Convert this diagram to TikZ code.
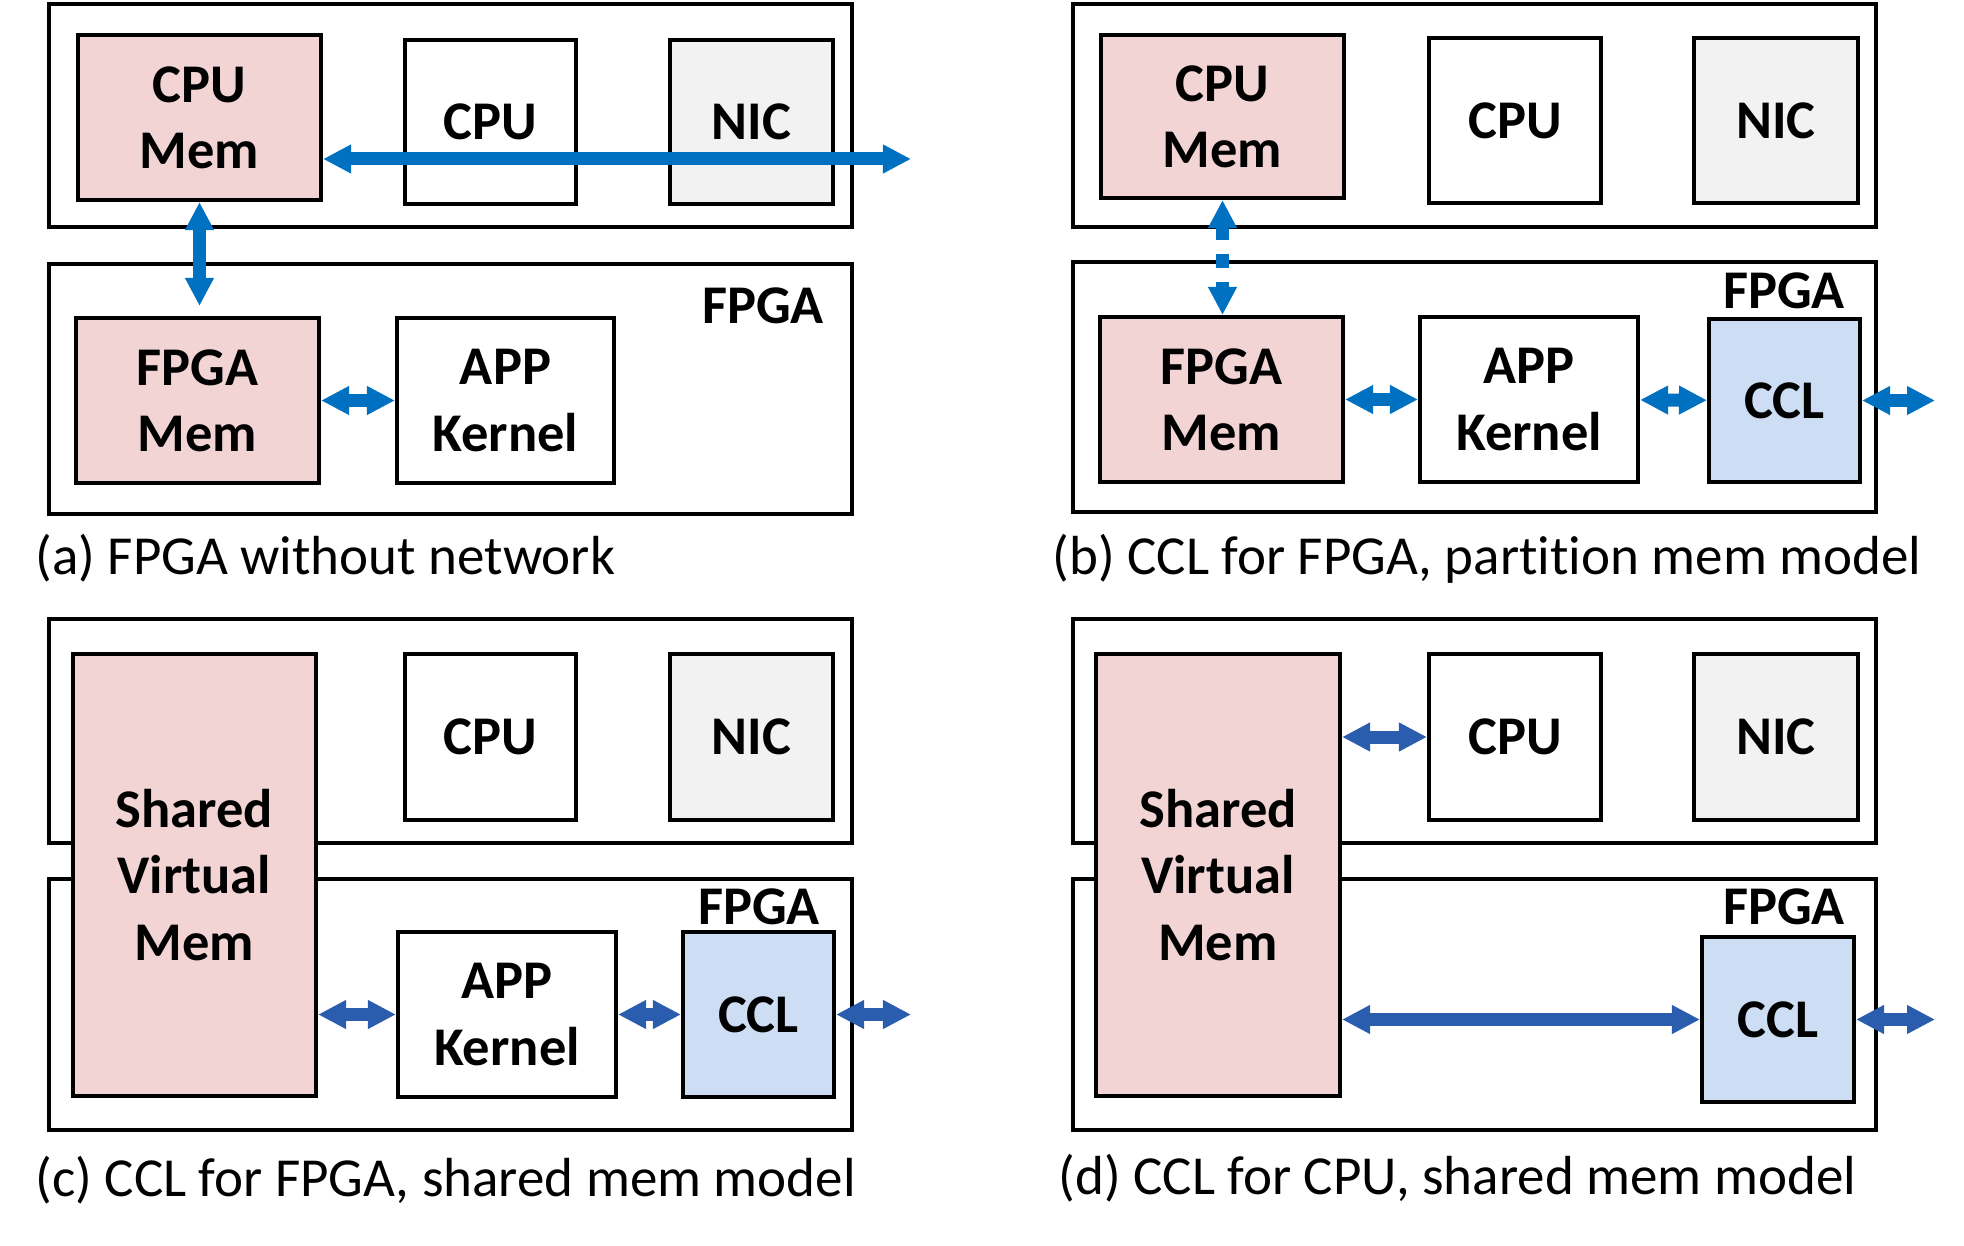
\documentclass[tikz,border=0pt]{standalone}
\usepackage{fontspec}
\setmainfont{Carlito}[RawFeature=-liga]
\usetikzlibrary{arrows.meta}
\definecolor{MemPink}{HTML}{F2D4D4}
\definecolor{NicGray}{HTML}{F2F2F2}
\definecolor{CclBlue}{HTML}{CDDDF3}
\definecolor{LinkBlue}{HTML}{0070C0}
\definecolor{LinkNavy}{HTML}{2A5DAD}

\begin{document}
\begin{tikzpicture}[x=0.01cm, y=-0.01cm,
  frame/.style={draw, line width=0.04cm},
  unit/.style={draw, line width=0.04cm, fill=white, align=center, inner sep=0pt, font=\fontsize{15.5pt}{18.8pt}\selectfont\bfseries},
  mem/.style={unit, fill=MemPink},
  nic/.style={unit, fill=NicGray},
  ccl/.style={unit, fill=CclBlue},
  box/.style args={#1x#2}{minimum width=#1cm, minimum height=#2cm},
  tag/.style={inner sep=0pt, font=\fontsize{15.5pt}{18.8pt}\selectfont\bfseries},
  caption/.style={anchor=base west, inner sep=0pt, font=\fontsize{15.65pt}{18pt}\selectfont},
  arr/.style={<->, >={Triangle[length=0.28cm, width=0.27cm]}, line width=0.13cm, LinkBlue},
  arrnavy/.style={arr, LinkNavy}
]
\useasboundingbox (0,0) rectangle (1964,1246);

\draw[frame] (49,4) rectangle (852,227);
\draw[frame] (49,264) rectangle (852,514);
\node[mem, box=2.43x1.65] (cpumemA) at (199.5,117.5) {CPU\\Mem};
\node[unit, box=1.71x1.64] (cpuA) at (490.5,122) {CPU};
\node[nic, box=1.63x1.64] (nicA) at (751.5,122) {NIC};
\node[mem, box=2.43x1.65] (fpgamemA) at (197.5,400.5) {FPGA\\Mem};
\node[unit, box=2.17x1.65] (appA) at (505.5,400.5) {APP\\Kernel};
\node[tag] (fpgaA) at (763,306) {FPGA};
\coordinate (netA) at (911,159);
\draw[arr] (cpumemA.east |- netA) -- (netA);
\draw[arr, shorten >=0.1cm] (cpumemA.south) -- (cpumemA.south |- fpgamemA.north);
\draw[arr] (fpgamemA) -- (appA);
\node[caption] (capA) at (35,574) {(a) FPGA without network};

\draw[frame] (1073,4) rectangle (1876,227);
\draw[frame] (1073,262) rectangle (1876,512);
\node[mem, box=2.43x1.63] (cpumemB) at (1222.5,116.5) {CPU\\Mem};
\node[unit, box=1.72x1.65] (cpuB) at (1515,120.5) {CPU};
\node[nic, box=1.64x1.65] (nicB) at (1776,120.5) {NIC};
\node[mem, box=2.43x1.65] (fpgamemB) at (1221.5,399.5) {FPGA\\Mem};
\node[unit, box=2.18x1.65] (appB) at (1529,399.5) {APP\\Kernel};
\node[ccl, box=1.51x1.63] (cclB) at (1784.5,400.5) {CCL};
\node[tag] (fpgaB) at (1784,291) {FPGA};
\coordinate (netB) at (1935,400.5);
\draw[arr, dash pattern=on 0.14cm off 0.14cm] (cpumemB.south) -- (cpumemB.south |- fpgamemB.north);
\draw[arr] (fpgamemB) -- (appB);
\draw[arr] (appB) -- (cclB);
\draw[arr] (cclB) -- (netB);
\node[caption] (capB) at (1052,574) {(b) CCL for FPGA, partition mem model};

\draw[frame] (49,619) rectangle (852,843);
\draw[frame] (49,879) rectangle (852,1130);
\node[mem, box=2.43x4.42] (svmC) at (194.5,875) {Shared\\Virtual\\Mem};
\node[unit, box=1.71x1.66] (cpuC) at (490.5,737) {CPU};
\node[nic, box=1.63x1.66] (nicC) at (751.5,737) {NIC};
\node[unit, box=2.18x1.65] (appC) at (507,1014.5) {APP\\Kernel};
\node[ccl, box=1.51x1.65] (cclC) at (758.5,1014.5) {CCL};
\node[tag] (fpgaC) at (759,907) {FPGA};
\coordinate (netC) at (911,1014.5);
\draw[arrnavy] (svmC.east |- appC) -- (appC);
\draw[arrnavy] (appC) -- (cclC);
\draw[arrnavy] (cclC) -- (netC);
\node[caption] (capC) at (35,1196) {(c) CCL for FPGA, shared mem model};

\draw[frame] (1073,619) rectangle (1876,843);
\draw[frame] (1073,879) rectangle (1876,1130);
\node[mem, box=2.44x4.42] (svmD) at (1218,875) {Shared\\Virtual\\Mem};
\node[unit, box=1.72x1.66] (cpuD) at (1515,737) {CPU};
\node[nic, box=1.64x1.66] (nicD) at (1776,737) {NIC};
\node[ccl, box=1.52x1.65] (cclD) at (1778,1019.5) {CCL};
\node[tag] (fpgaD) at (1784,907) {FPGA};
\coordinate (netD) at (1935,1019.5);
\draw[arrnavy] (svmD.east |- cpuD) -- (cpuD);
\draw[arrnavy] (svmD.east |- cclD) -- (cclD);
\draw[arrnavy] (cclD) -- (netD);
\node[caption] (capD) at (1058,1194) {(d) CCL for CPU, shared mem model};
\end{tikzpicture}
\end{document}
